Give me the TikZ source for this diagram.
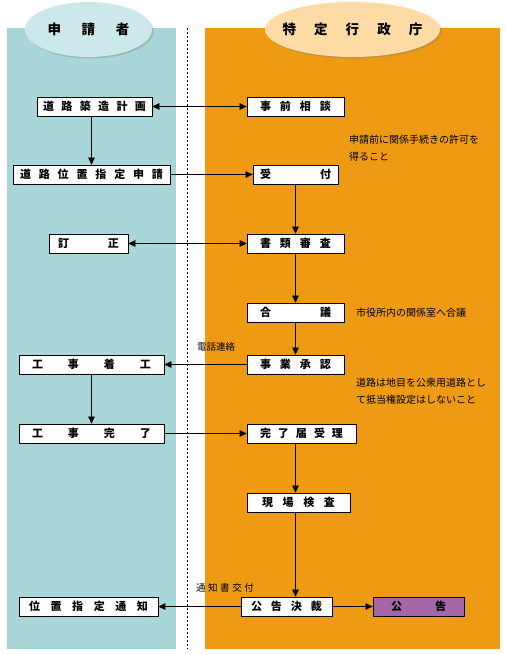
\documentclass[tikz,border=0pt]{standalone}
\usepackage{fontspec}
\setmainfont{Noto Sans CJK JP}
\usepackage{tikz}
\usetikzlibrary{shapes.geometric,arrows.meta,positioning,shadows,calc}

\definecolor{panelteal}{HTML}{A9D6D8}
\definecolor{panelorange}{HTML}{EE9A12}
\definecolor{headteal}{HTML}{CDE8EA}
\definecolor{headorange}{HTML}{FDDBA5}
\definecolor{noticepurple}{HTML}{A566A8}

\begin{document}
\begin{tikzpicture}[
    x=1pt, y=-1pt,
    >={Triangle[length=7pt,width=6.5pt]},
    header/.style={ellipse, fill=#1, minimum height=55pt, inner sep=0pt, drop shadow={shadow xshift=1.5pt, shadow yshift=-1.5pt, opacity=0.35}},
    headtext/.style={inner sep=0pt, align=left, font=\fontsize{13.5}{15}\selectfont\bfseries},
    stepbox/.style={rectangle, draw, fill=white, line width=0.7pt, minimum height=19pt, inner ysep=0pt, align=left, font=\fontsize{11}{13}\selectfont\bfseries, drop shadow={shadow xshift=1pt, shadow yshift=-1pt, opacity=0.4}},
    note/.style={anchor=west, align=left, inner sep=0pt, font=\fontsize{10}{17}\selectfont},
    arrowlbl/.style={inner sep=0pt, align=left, font=\fontsize{9.5}{11}\selectfont},
    arrow/.style={->, line width=0.6pt},
    both/.style={<->, line width=0.6pt}
]
\useasboundingbox (0,0) rectangle (505,654);

% lanes
\fill[panelteal] (7,28) rectangle (176,649);
\fill[panelorange] (205,28) rectangle (500,649);
\draw[dash pattern=on 2pt off 2pt, line width=0.6pt] (187,28) -- (187,649);

\node[header=headteal, minimum width=127pt] (applhead) at (88.5,29.5) {};
\node[headtext, text width=82pt] at (applhead) {申\hfill 請\hfill 者};
\node[header=headorange, minimum width=175pt] (govhead) at (352.5,29.5) {};
\node[headtext, text width=140pt] at (govhead) {特\hfill 定\hfill 行\hfill 政\hfill 庁};

% applicant side
\node[stepbox, inner xsep=6pt, text width=103pt] (plan) at (94.5,106.5) {道\hfill 路\hfill 築\hfill 造\hfill 計\hfill 画};
\node[stepbox, inner xsep=7pt, text width=143pt] (apply) at (91.5,174.5) {道\hfill 路\hfill 位\hfill 置\hfill 指\hfill 定\hfill 申\hfill 請};
\node[stepbox, inner xsep=9pt, text width=61pt] (correct) at (88.5,243.5) {訂\hfill 正};
\node[stepbox, inner xsep=13pt, text width=119pt] (start) at (91.5,364.5) {工\hfill 事\hfill 着\hfill 工};
\node[stepbox, inner xsep=13pt, text width=119pt] (finish) at (91.5,433.5) {工\hfill 事\hfill 完\hfill 了};
\node[stepbox, inner xsep=10pt, text width=119pt] (notify) at (88.5,606.5) {位\hfill 置\hfill 指\hfill 定\hfill 通\hfill 知};

% government side
\node[stepbox, inner xsep=13pt, text width=71pt] (consult) at (295.5,106.5) {事\hfill 前\hfill 相\hfill 談};
\node[stepbox, inner xsep=7pt, text width=71pt] (receipt) at (295.5,174.5) {受\hfill 付};
\node[stepbox, inner xsep=13pt, text width=71pt] (review) at (295.5,243.5) {書\hfill 類\hfill 審\hfill 査};
\node[stepbox, inner xsep=13pt, text width=71pt] (council) at (295.5,312.5) {合\hfill 議};
\node[stepbox, inner xsep=13pt, text width=71pt] (approve) at (295.5,364.5) {事\hfill 業\hfill 承\hfill 認};
\node[stepbox, inner xsep=13pt, text width=83pt] (accept) at (301.5,433.5) {完\hfill 了\hfill 届\hfill 受\hfill 理};
\node[stepbox, inner xsep=15pt, text width=73pt] (inspect) at (298.5,502.5) {現\hfill 場\hfill 検\hfill 査};
\node[stepbox, inner xsep=10pt, text width=71pt] (decide) at (286.5,606.5) {公\hfill 告\hfill 決\hfill 裁};
\node[stepbox, fill=noticepurple, inner xsep=18pt, text width=55pt] (notice) at (418.5,606.5) {公\hfill 告};

% notes
\node[note] (prenote) at (349,148.5) {申請前に関係手続きの許可を\\得ること};
\node[note] (councilnote) at (356,313) {市役所内の関係室へ合議};
\node[note] (roadnote) at (356,391.5) {道路は地目を公衆用道路とし\\て抵当権設定はしないこと};
\node[arrowlbl] (phonelbl) at (216,347) {電話連絡};
\node[arrowlbl, text width=58pt] (issuelbl) at (225,588) {通\hfill 知\hfill 書\hfill 交\hfill 付};

% flow
\draw[both] (plan) -- (consult);
\draw[arrow] (plan.south -| apply.north) -- (apply.north);
\draw[arrow] (apply) -- (receipt);
\draw[arrow] (receipt) -- (review);
\draw[both] (correct) -- (review);
\draw[arrow] (review) -- (council);
\draw[arrow] (council) -- (approve);
\draw[arrow] (approve) -- (start);
\draw[arrow] (start) -- (finish);
\draw[arrow] (finish) -- (accept);
\draw[arrow] (accept.south -| receipt) -- (inspect.north -| receipt);
\draw[arrow] (inspect.south -| receipt) -- (decide.north -| receipt);
\draw[arrow] (decide) -- (notify);
\draw[arrow] (decide) -- (notice);

\end{tikzpicture}
\end{document}
